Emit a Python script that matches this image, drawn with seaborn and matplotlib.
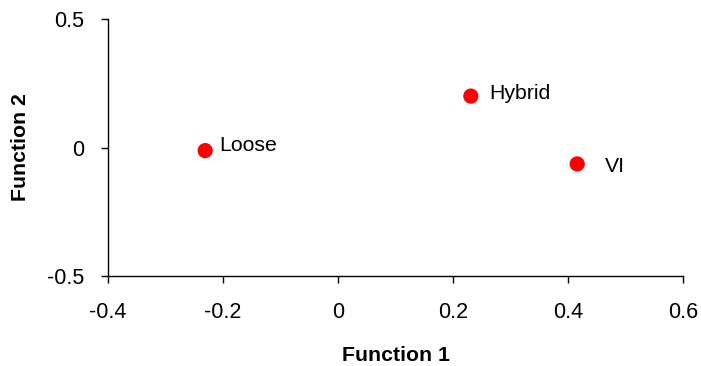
import matplotlib
matplotlib.use("Agg")
import matplotlib.pyplot as plt
import seaborn as sns
import pandas as pd

groups = ["Loose", "Hybrid", "VI"]
function1 = [-0.231, 0.231, 0.416]
function2 = [-0.012, 0.20, -0.064]
x_ticks = [-0.4, -0.2, 0, 0.2, 0.4, 0.6]
y_ticks = [-0.5, 0, 0.5]

sns.set_style("white")
plt.rcParams['font.family'] = ['Liberation Sans', 'DejaVu Sans']

df = pd.DataFrame({"Function 1": function1, "Function 2": function2, "group": groups})

fig = plt.figure(figsize=(7.01, 3.66), dpi=100)
ax = fig.add_axes([108/701, 1 - 276/366, (683 - 108)/701, (276 - 19)/366])

sns.scatterplot(data=df, x="Function 1", y="Function 2", color="#ff0000",
                s=120, edgecolor="none", ax=ax, legend=False)

offsets = {"Loose": (10, 4), "Hybrid": (13, 2), "VI": (20, -2)}
for g, xv, yv in zip(groups, function1, function2):
    dx, dy = offsets[g]
    ax.annotate(g, (xv, yv), xytext=(dx, dy), textcoords="offset points",
                fontsize=15.3, va="center", ha="left", color="black")

ax.set_xlim(-0.4, 0.6)
ax.set_ylim(-0.5, 0.5)
ax.set_xticks(x_ticks)
ax.set_xticklabels(["-0.4", "-0.2", "0", "0.2", "0.4", "0.6"])
ax.set_yticks(y_ticks)
ax.set_yticklabels(["-0.5", "0", "0.5"])
ax.tick_params(axis="both", direction="out", length=5, width=1, color="black",
               labelsize=15.5, labelcolor="black")
ax.tick_params(axis="x", pad=14, bottom=True)
ax.tick_params(axis="y", pad=12, left=True)

for side in ["top", "right"]:
    ax.spines[side].set_visible(False)
for side in ["left", "bottom"]:
    ax.spines[side].set_color("black")
    ax.spines[side].set_linewidth(1)

ax.set_xlabel("Function 1", fontsize=15.3, fontweight="bold", labelpad=16, color="black")
ax.set_ylabel("Function 2", fontsize=15.3, fontweight="bold", labelpad=12, color="black")

fig.savefig("out.png", dpi=100)
